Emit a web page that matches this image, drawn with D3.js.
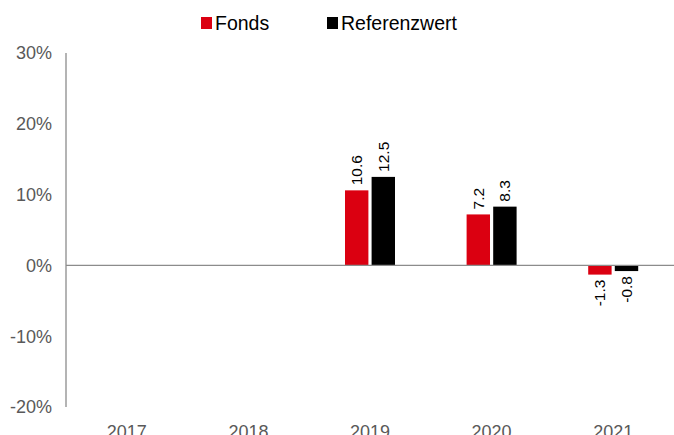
<!DOCTYPE html>
<html>
<head>
<meta charset="utf-8">
<script src="https://cdn.jsdelivr.net/npm/d3@7"></script>
<style>
  body { margin: 0; background: #fff; }
  svg { display: block; font-family: "Liberation Sans", Arial, sans-serif; }
</style>
</head>
<body>
<div id="chart"></div>
<script>
// dados
var years = ["2017", "2018", "2019", "2020", "2021"];
var series = ["Fonds", "Referenzwert"];
var fonds = [null, null, 10.6, 7.2, -1.3];
var referenz = [null, null, 12.5, 8.3, -0.8];
var yTicks = [-20, -10, 0, 10, 20, 30];
var colors = ["#db0011", "#000000"];

var width = 674, height = 435;

var svg = d3.select("#chart").append("svg")
  .attr("width", width)
  .attr("height", height);

var x = d3.scaleBand().domain(years).range([66, 674]);
var x1 = d3.scaleBand().domain(series).range([0, 50]).paddingInner(0.12);
var y = d3.scaleLinear().domain([-20, 30]).range([407, 53]);

// eixo y (so a linha e os textos)
svg.append("line")
  .attr("x1", 66).attr("x2", 66)
  .attr("y1", y(30)).attr("y2", y(-20))
  .attr("stroke", "#8c8c8c").attr("stroke-width", 1.3);

svg.selectAll("text.ytick")
  .data(yTicks)
  .enter().append("text")
  .attr("class", "ytick")
  .attr("x", 52)
  .attr("y", d => y(d))
  .attr("dy", "0.35em")
  .attr("text-anchor", "end")
  .attr("font-size", 18)
  .attr("fill", "#595959")
  .text(d => d + "%");

// anos em baixo
svg.selectAll("text.xtick")
  .data(years)
  .enter().append("text")
  .attr("class", "xtick")
  .attr("x", d => x(d) + x.bandwidth() / 2)
  .attr("y", 438)
  .attr("text-anchor", "middle")
  .attr("font-size", 18)
  .attr("fill", "#595959")
  .text(d => d);

// barras
var rows = [];
years.forEach(function (yr, i) {
  [fonds[i], referenz[i]].forEach(function (v, j) {
    if (v !== null) rows.push({ year: yr, serie: series[j], value: v, color: colors[j] });
  });
});

var g = svg.append("g");

g.selectAll("rect")
  .data(rows)
  .enter().append("rect")
  .attr("x", d => x(d.year) + x.bandwidth() / 2 - 25 + x1(d.serie))
  .attr("width", x1.bandwidth())
  .attr("y", d => y(Math.max(0, d.value)))
  .attr("height", d => Math.abs(y(d.value) - y(0)))
  .attr("fill", d => d.color);

// linha do zero por cima
svg.append("line")
  .attr("x1", 66).attr("x2", 674)
  .attr("y1", y(0)).attr("y2", y(0))
  .attr("stroke", "#8c8c8c").attr("stroke-width", 1.3);

// valores rodados
g.selectAll("text.val")
  .data(rows)
  .enter().append("text")
  .attr("class", "val")
  .attr("transform", function (d) {
    var cx = x(d.year) + x.bandwidth() / 2 - 25 + x1(d.serie) + x1.bandwidth() / 2;
    var cy = d.value >= 0 ? y(d.value) - 5 : y(d.value) + 5;
    return "translate(" + cx + "," + cy + ") rotate(-90)";
  })
  .attr("dy", "0.35em")
  .attr("text-anchor", d => d.value >= 0 ? "start" : "end")
  .attr("font-size", 15.5)
  .attr("fill", "#000")
  .text(d => d.value.toFixed(1));

// legenda
var leg = svg.append("g");
var legX = [201, 327];
series.forEach(function (s, i) {
  leg.append("rect")
    .attr("x", legX[i]).attr("y", 17)
    .attr("width", 11).attr("height", 12)
    .attr("fill", colors[i]);
  leg.append("text")
    .attr("x", legX[i] + 14).attr("y", 30)
    .attr("font-size", 19.5)
    .attr("fill", "#000")
    .text(s);
});
</script>
</body>
</html>
